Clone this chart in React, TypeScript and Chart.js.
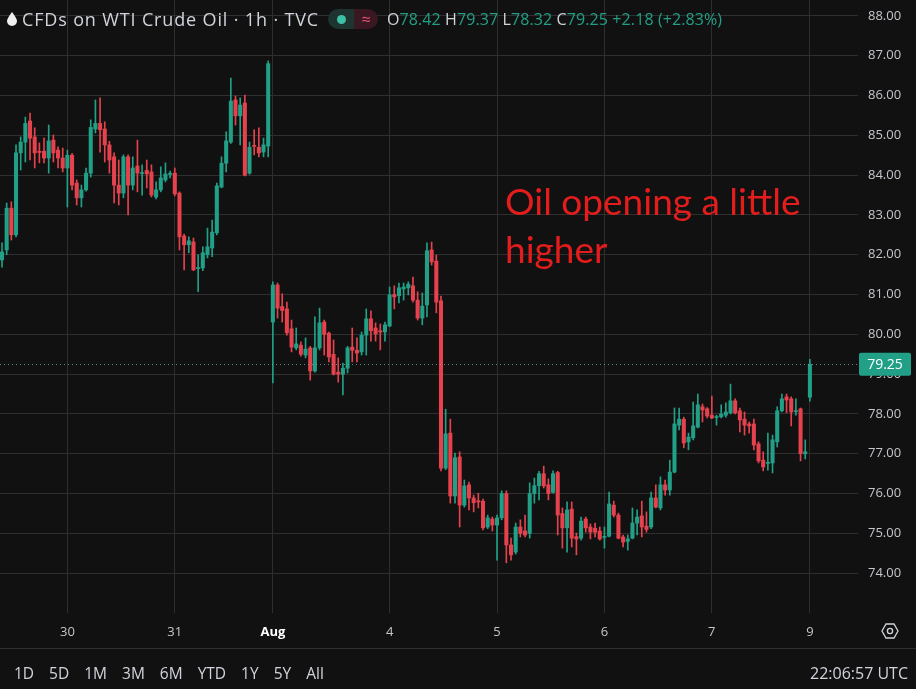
import { useEffect, useRef } from "react";
import { Chart, registerables } from "chart.js";

Chart.register(...registerables);

// hourly candles, 174 bars
const opens = [
	81.87, 82.12, 83.17, 82.5, 84.56, 84.83, 85.36, 84.96, 84.6, 84.6,
	84.43, 84.88, 84.63, 84.43, 84.18, 84.5, 83.8, 83.43, 83.63, 84.05,
	85.16, 85.3, 85.16, 84.76, 84.46, 83.75, 83.55, 84.46, 83.75, 84.23,
	84.04, 84.12, 84.08, 83.45, 83.63, 83.88, 84.02, 84.05, 83.55, 82.47,
	82.25, 82.32, 81.65, 81.67, 82.0, 82.17, 82.55, 83.7, 84.3, 84.83,
	85.89, 85.49, 85.81, 84.05, 84.74, 84.7, 84.58, 84.73, 80.31, 81.24,
	80.7, 80.64, 80.14, 79.66, 79.73, 79.48, 79.66, 79.08, 79.66, 80.31,
	80.03, 79.5, 79.05, 79.0, 79.15, 79.68, 79.6, 79.56, 79.98, 80.39,
	80.16, 80.09, 80.06, 80.21, 81.0, 80.97, 81.14, 81.17, 81.22, 80.86,
	80.41, 80.74, 82.12, 81.84, 80.84, 76.64, 77.52, 75.94, 76.92, 75.71,
	76.22, 75.89, 75.82, 75.81, 75.16, 75.36, 75.21, 75.39, 76.0, 74.71,
	74.53, 75.16, 75.06, 75.0, 76.0, 76.2, 76.5, 76.22, 76.03, 76.53,
	75.5, 75.14, 75.61, 74.92, 74.88, 75.36, 75.16, 75.13, 75.06, 74.9,
	74.93, 75.71, 75.46, 74.91, 74.8, 74.88, 75.26, 75.44, 75.18, 75.16,
	75.89, 75.64, 76.22, 76.09, 76.54, 77.72, 77.87, 77.3, 77.4, 77.67,
	78.18, 78.13, 77.97, 77.91, 77.93, 77.97, 78.03, 78.33, 78.08, 77.87,
	77.75, 77.75, 77.25, 76.84, 76.76, 76.77, 77.3, 78.08, 78.43, 78.38,
	78.06, 78.13, 77.0, 78.42,
];
const highs = [
	82.3, 83.3, 83.33, 84.76, 84.96, 85.46, 85.56, 85.19, 84.81, 84.93,
	85.26, 85.01, 84.71, 84.68, 84.63, 84.55, 83.88, 83.75, 84.18, 85.39,
	85.89, 85.94, 85.34, 84.85, 84.56, 84.38, 84.51, 84.51, 84.46, 84.88,
	84.26, 84.38, 84.26, 83.83, 84.21, 84.31, 84.1, 84.18, 83.58, 82.52,
	82.45, 82.42, 82.0, 82.2, 82.67, 82.87, 83.8, 84.46, 85.09, 86.44,
	85.99, 85.94, 86.01, 84.83, 85.14, 85.19, 84.93, 86.87, 81.32, 81.29,
	81.02, 80.81, 80.36, 80.16, 79.81, 79.91, 79.7, 80.44, 80.66, 80.36,
	80.06, 79.86, 79.41, 79.28, 79.7, 80.16, 79.91, 80.06, 80.64, 80.59,
	80.29, 80.26, 80.31, 81.19, 81.22, 81.29, 81.29, 81.32, 81.44, 81.07,
	81.04, 82.3, 82.32, 81.99, 80.96, 78.12, 77.87, 77.02, 77.05, 76.34,
	76.29, 75.96, 76.01, 75.86, 75.46, 75.41, 75.46, 76.07, 76.07, 74.88,
	75.26, 75.34, 75.46, 76.27, 76.39, 76.56, 76.69, 76.37, 76.57, 76.56,
	75.64, 75.79, 75.79, 75.01, 75.41, 75.41, 75.24, 75.26, 75.16, 75.16,
	76.04, 75.81, 75.51, 74.96, 74.96, 75.64, 75.59, 75.81, 75.54, 76.04,
	76.22, 76.42, 76.34, 76.84, 78.15, 78.15, 77.92, 77.52, 78.3, 78.5,
	78.25, 78.16, 78.45, 77.97, 78.23, 78.28, 78.75, 78.38, 78.15, 78.05,
	77.8, 77.87, 77.3, 77.05, 77.52, 77.47, 78.18, 78.5, 78.5, 78.43,
	78.38, 78.15, 77.35, 79.37,
];
const lows = [
	81.69, 82.0, 82.37, 82.45, 84.13, 84.33, 84.38, 84.18, 84.31, 84.31,
	84.05, 84.33, 84.18, 84.08, 83.2, 83.63, 83.25, 83.2, 83.6, 83.95,
	85.06, 84.58, 84.33, 84.05, 83.3, 83.25, 83.43, 83.0, 83.63, 83.58,
	83.5, 83.68, 83.45, 83.4, 83.58, 83.83, 83.93, 83.48, 82.12, 81.62,
	82.05, 81.6, 81.07, 81.6, 81.92, 81.95, 82.5, 83.68, 84.08, 84.8,
	85.26, 84.76, 83.98, 84.02, 84.51, 84.46, 84.46, 84.46, 78.78, 80.41,
	80.31, 79.98, 79.56, 79.61, 79.45, 79.41, 78.85, 79.05, 79.61, 79.48,
	79.31, 78.98, 78.8, 78.48, 79.03, 79.31, 79.31, 79.48, 79.48, 79.83,
	79.83, 79.61, 79.83, 80.19, 80.64, 80.79, 80.86, 80.99, 80.81, 80.36,
	80.24, 80.44, 81.74, 80.54, 76.57, 76.6, 75.76, 75.76, 75.16, 75.66,
	75.59, 75.54, 75.64, 75.09, 75.12, 75.06, 74.33, 75.34, 74.26, 74.33,
	74.48, 74.91, 74.91, 74.88, 75.76, 75.84, 76.14, 75.84, 76.01, 74.96,
	74.63, 74.53, 74.66, 74.46, 74.83, 75.03, 74.86, 74.91, 74.83, 74.63,
	74.91, 75.41, 74.86, 74.66, 74.58, 74.86, 74.96, 74.91, 75.03, 75.12,
	75.64, 75.59, 75.96, 75.96, 76.52, 77.6, 77.15, 77.1, 77.35, 77.65,
	77.8, 77.9, 77.88, 77.72, 77.9, 77.92, 78.0, 78.0, 77.55, 77.47,
	77.52, 77.1, 76.77, 76.57, 76.59, 76.52, 77.17, 78.05, 78.03, 77.7,
	77.97, 76.82, 76.87, 78.32,
];
const closes = [
	82.07, 83.17, 82.5, 84.56, 84.83, 85.3, 84.93, 84.56, 84.57, 84.43,
	84.86, 84.56, 84.43, 84.18, 84.5, 83.75, 83.43, 83.63, 84.05, 85.2,
	85.3, 85.14, 84.76, 84.38, 83.75, 83.55, 84.46, 83.75, 84.18, 84.05,
	84.06, 84.03, 83.5, 83.63, 83.93, 84.03, 84.04, 83.53, 82.45, 82.25,
	82.35, 81.62, 81.68, 82.05, 82.2, 82.57, 83.73, 84.3, 84.86, 85.86,
	85.49, 85.76, 84.0, 84.7, 84.72, 84.56, 84.76, 86.8, 81.24, 80.66,
	80.6, 80.04, 79.68, 79.76, 79.5, 79.63, 79.08, 79.66, 80.29, 80.0,
	79.43, 79.0, 79.0, 79.15, 79.66, 79.6, 79.53, 79.98, 80.39, 80.09,
	80.01, 80.06, 80.24, 80.99, 80.94, 81.17, 81.19, 81.26, 80.86, 80.41,
	80.71, 82.1, 81.82, 80.81, 76.64, 77.5, 75.94, 76.9, 75.71, 76.19,
	75.89, 75.77, 75.79, 75.14, 75.39, 75.21, 75.39, 76.0, 74.71, 74.46,
	75.16, 75.0, 74.96, 76.0, 76.2, 76.5, 76.19, 76.0, 76.5, 75.46,
	75.14, 75.59, 74.88, 74.86, 75.31, 75.14, 75.03, 75.03, 74.86, 74.92,
	75.74, 75.46, 74.88, 74.78, 74.86, 75.26, 75.41, 75.16, 75.1, 75.89,
	75.66, 76.22, 76.09, 76.54, 77.75, 77.87, 77.27, 77.42, 77.7, 78.23,
	78.1, 77.95, 77.9, 77.93, 78.0, 78.05, 78.33, 78.03, 77.85, 77.72,
	77.7, 77.22, 76.82, 76.67, 76.78, 77.35, 78.08, 78.38, 78.35, 78.05,
	78.08, 77.0, 77.05, 79.25,
];

const dayTickIndex = [14, 37, 58, 83, 106, 129, 152, 173];
const dayTickLabels = ["30", "31", "Aug", "4", "5", "6", "7", "9"];
const priceTicks = [74, 75, 76, 77, 78, 79, 80, 81, 82, 83, 84, 85, 86, 87, 88];
const rangeButtons = ["1D", "5D", "1M", "3M", "6M", "YTD", "1Y", "5Y", "All"];

const UP = "#22a087";
const DOWN = "#e5424e";
const GRID = "#2f2f2f";
const BG = "#111111";
const TEXT = "#d1d4dc";
const UI_FONT = "'Open Sans', sans-serif";

const lastPricePlugin = {
	id: "lastPrice",
	afterDatasetsDraw(chart: Chart) {
		const { ctx, chartArea } = chart;
		const y = Math.round(chart.scales.y.getPixelForValue(closes[closes.length - 1])) + 0.5;
		ctx.save();
		ctx.strokeStyle = "rgba(120, 170, 160, 0.75)";
		ctx.lineWidth = 1;
		ctx.setLineDash([1, 3]);
		ctx.beginPath();
		ctx.moveTo(chartArea.left, y);
		ctx.lineTo(chartArea.right, y);
		ctx.stroke();
		ctx.restore();
	},
	afterDraw(chart: Chart) {
		const { ctx, chartArea } = chart;
		const last = closes[closes.length - 1];
		const y = chart.scales.y.getPixelForValue(last);
		const x = chartArea.right + 1;
		ctx.save();
		ctx.fillStyle = UP;
		ctx.beginPath();
		ctx.roundRect(x, y - 11.5, 52, 23, 2);
		ctx.fill();
		ctx.fillStyle = "#ffffff";
		ctx.font = `14px ${UI_FONT}`;
		ctx.textAlign = "center";
		ctx.textBaseline = "middle";
		ctx.fillText(last.toFixed(2), x + 26, y + 1);
		ctx.restore();
	},
};

function CandleChart() {
	const canvasRef = useRef<HTMLCanvasElement | null>(null);

	useEffect(() => {
		if (!canvasRef.current) return;
		const colors = closes.map((c, i) => (c >= opens[i] ? UP : DOWN));
		const chart = new Chart(canvasRef.current, {
			type: "bar",
			data: {
				datasets: [
					{
						label: "body",
						data: opens.map((o, i) => ({ x: i, y: [Math.min(o, closes[i]), Math.max(o, closes[i])] })) as any,
						backgroundColor: colors,
						barThickness: 3.4,
						minBarLength: 1,
						grouped: false,
						borderWidth: 0,
					},
					{
						label: "wick",
						data: lows.map((l, i) => ({ x: i, y: [l, highs[i]] })) as any,
						backgroundColor: colors,
						barThickness: 1,
						grouped: false,
						borderWidth: 0,
					},
				],
			},
			options: {
				responsive: false,
				animation: false,
				layout: { padding: { left: 0, right: 0, top: 0, bottom: 41 } },
				plugins: { legend: { display: false }, tooltip: { enabled: false } },
				scales: {
					x: {
						type: "linear",
						min: -0.43,
						max: 183.3,
						offset: false,
						border: { display: false },
						grid: { color: GRID, drawTicks: false, offset: false },
						afterBuildTicks: (s: any) => {
							s.ticks = dayTickIndex.map((v) => ({ value: v }));
						},
						afterFit: (s: any) => {
							s.height = 35;
							s.paddingLeft = 0;
							s.paddingRight = 0;
						},
						ticks: {
							autoSkip: false,
							maxRotation: 0,
							padding: 11,
							color: (c: any) => (c.tick && c.tick.label === "Aug" ? "#ffffff" : "#c4c6cc"),
							font: (c: any) => ({
								family: UI_FONT,
								size: 13,
								weight: c.tick && c.tick.label === "Aug" ? "bold" : "normal",
							}),
							callback: (v: any) => dayTickLabels[dayTickIndex.indexOf(Number(v))] ?? "",
						},
					},
					y: {
						position: "right",
						min: 73,
						max: 88.4,
						border: { display: false },
						grid: { color: GRID, drawTicks: false },
						afterBuildTicks: (s: any) => {
							s.ticks = priceTicks.map((v) => ({ value: v }));
						},
						afterFit: (s: any) => {
							s.width = 58;
							s.paddingTop = 0;
							s.paddingBottom = 0;
						},
						ticks: {
							padding: 10,
							color: "#c4c6cc",
							font: { family: UI_FONT, size: 13 },
							callback: (v: any) => Number(v).toFixed(2),
						},
					},
				},
			},
			plugins: [lastPricePlugin],
		});
		return () => chart.destroy();
	}, []);

	return (
		<canvas
			ref={canvasRef}
			width={916}
			height={689}
			style={{ position: "absolute", left: 0, top: 0, width: 916, height: 689 }}
		/>
	);
}

export default function App() {
	useEffect(() => {
		document.body.style.margin = "0";
		document.body.style.background = BG;
	}, []);

	const o = opens[opens.length - 1];
	const h = highs[highs.length - 1];
	const l = lows[lows.length - 1];
	const c = closes[closes.length - 1];

	return (
		<div
			style={{
				position: "relative",
				width: 916,
				height: 689,
				background: BG,
				overflow: "hidden",
				fontFamily: UI_FONT,
				color: TEXT,
			}}
		>
			<CandleChart />

			{/* legend row */}
			<svg width="10" height="14" viewBox="0 0 10 14" style={{ position: "absolute", left: 7, top: 12 }}>
				<path d="M5 0 C5 0 0 6.5 0 9 A5 5 0 0 0 10 9 C10 6.5 5 0 5 0 Z" fill="#f0f0f0" />
			</svg>
			<div
				style={{
					position: "absolute",
					left: 22,
					top: 7,
					fontSize: 18,
					letterSpacing: 0.85,
					lineHeight: "24px",
					whiteSpace: "nowrap",
				}}
			>
				CFDs on WTI Crude Oil · 1h · TVC
			</div>
			<div
				style={{
					position: "absolute",
					left: 328,
					top: 9,
					height: 20,
					width: 50,
					borderRadius: 10,
					overflow: "hidden",
					display: "flex",
				}}
			>
				<div style={{ width: 26, background: "#1d3430", display: "flex", alignItems: "center", justifyContent: "center" }}>
					<div style={{ width: 9, height: 9, borderRadius: 5, background: "#3cc2a6" }} />
				</div>
				<div
					style={{
						width: 24,
						background: "#3a1822",
						color: "#e8507a",
						fontSize: 16,
						lineHeight: "20px",
						textAlign: "center",
					}}
				>
					≈
				</div>
			</div>
			<div
				style={{
					position: "absolute",
					left: 387,
					top: 7,
					fontSize: 16,
					letterSpacing: 0.1,
					lineHeight: "24px",
					whiteSpace: "nowrap",
				}}
			>
				<span>O</span>
				<span style={{ color: UP }}>{o.toFixed(2)}</span> <span>H</span>
				<span style={{ color: UP }}>{h.toFixed(2)}</span> <span>L</span>
				<span style={{ color: UP }}>{l.toFixed(2)}</span> <span>C</span>
				<span style={{ color: UP }}>{c.toFixed(2)}</span>{" "}
				<span style={{ color: UP }}>+2.18 (+2.83%)</span>
			</div>

			{/* annotation */}
			<div
				style={{
					position: "absolute",
					left: 505,
					top: 177,
					fontFamily: "Lato, sans-serif",
					fontSize: 37,
					lineHeight: "48px",
					color: "#e31c1c",
					whiteSpace: "nowrap",
				}}
			>
				Oil opening a little
				<br />
				higher
			</div>

			{/* settings icon */}
			<svg width="18" height="18" viewBox="0 0 18 18" style={{ position: "absolute", left: 881, top: 622 }}>
				<path d="M5 2 L13 2 L17 9 L13 16 L5 16 L1 9 Z" fill="none" stroke={TEXT} strokeWidth="1.3" />
				<circle cx="9" cy="9" r="2.6" fill="none" stroke={TEXT} strokeWidth="1.3" />
			</svg>

			{/* bottom toolbar */}
			<div style={{ position: "absolute", left: 0, top: 648, width: 916, height: 1, background: GRID }} />
			<div
				style={{
					position: "absolute",
					left: 14,
					top: 661,
					display: "flex",
					gap: 15,
					fontSize: 15.5,
					lineHeight: "24px",
				}}
			>
				{rangeButtons.map((b) => (
					<span key={b}>{b}</span>
				))}
			</div>
			<div style={{ position: "absolute", right: 8, top: 661, fontSize: 16, lineHeight: "24px" }}>22:06:57 UTC</div>
		</div>
	);
}
